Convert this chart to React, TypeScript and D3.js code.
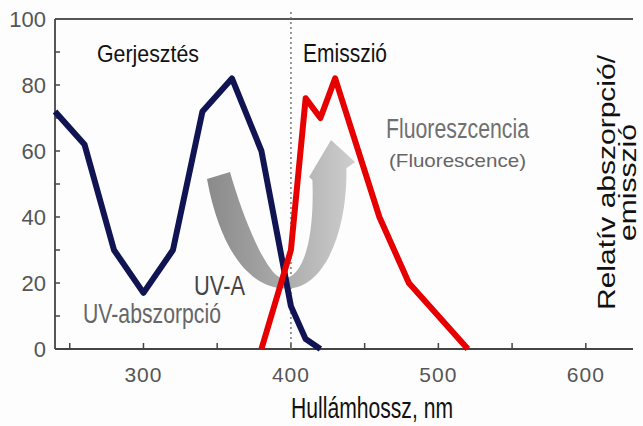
import React from "react";
import * as d3 from "d3";

const absorptionWl = [240, 260, 280, 300, 320, 340, 360, 380, 400, 410, 420];
const absorptionVal = [72, 62, 30, 17, 30, 72, 82, 60, 13, 3, 0];
const emissionWl = [380, 400, 410, 420, 430, 460, 480, 520];
const emissionVal = [0, 30, 76, 70, 82, 40, 20, 0];
const xMajorTicks = [300, 400, 500, 600];
const xMinorTicks = [250, 300, 350, 400, 450, 500, 550, 600];
const yMajorTicks = [0, 20, 40, 60, 80, 100];
const yMinorTicks = [10, 20, 30, 40, 50, 60, 70, 80, 90];
// curved arrow outline in data units [wavelength, value]
const arrowPts: [number, number][] = [
  [343.1, 51.5],
  [351.9, 30.0], [372.2, 18.0], [398.0, 18.3],
  [423.1, 18.5], [438.5, 36.1], [437.6, 54.8],
  [443.5, 56.7], [427.2, 63.3], [412.3, 52.1], [414.6, 51.2],
  [416.0, 34.5], [409.5, 22.4], [396.0, 21.4],
  [385.8, 20.3], [368.9, 37.6], [358.7, 53.6],
];

const W = 643, H = 426;
const L = 55, R = 633, T = 19, B = 349;

export default function App() {
  const x = d3.scaleLinear().domain([240, 632]).range([L, R]);
  const y = d3.scaleLinear().domain([0, 100]).range([B, T]);
  const line = d3.line<[number, number]>().x(d => x(d[0])).y(d => y(d[1]));
  const abs: [number, number][] = absorptionWl.map((w, i) => [w, absorptionVal[i]]);
  const em: [number, number][] = emissionWl.map((w, i) => [w, emissionVal[i]]);
  const P = arrowPts.map(p => `${x(p[0]).toFixed(1)},${y(p[1]).toFixed(1)}`);
  const arrowPath =
    `M${P[0]} C${P[1]} ${P[2]} ${P[3]} C${P[4]} ${P[5]} ${P[6]} L${P[7]} L${P[8]} L${P[9]} L${P[10]} ` +
    `C${P[11]} ${P[12]} ${P[13]} C${P[14]} ${P[15]} ${P[16]} Z`;
  const font = "'Liberation Sans', Arial, sans-serif";
  return (
    <svg width={W} height={H} style={{ position: "absolute", left: 0, top: 0, background: "#fff" }} fontFamily={font}>
      <defs>
        <linearGradient id="ag" gradientUnits="userSpaceOnUse" x1={x(343)} y1={0} x2={x(443)} y2={0}>
          <stop offset="0" stopColor="#8a8a8a" />
          <stop offset="0.5" stopColor="#a9a9a9" />
          <stop offset="1" stopColor="#cecece" />
        </linearGradient>
      </defs>
      <rect x={0} y={0} width={W} height={H} fill="#fdfdfd" />
      {/* frame */}
      <line x1={L} x2={R} y1={T} y2={T} stroke="#555" strokeWidth={2} />
      <line x1={L} x2={L} y1={T} y2={B} stroke="#444" strokeWidth={1.8} />
      <line x1={L} x2={R} y1={B} y2={B} stroke="#444" strokeWidth={1.8} />
      {yMinorTicks.map(t => (
        <line key={"ym" + t} x1={L} x2={L + 5} y1={y(t)} y2={y(t)} stroke="#444" strokeWidth={1.5} />
      ))}
      {xMinorTicks.map(t => (
        <line key={"xm" + t} x1={x(t)} x2={x(t)} y1={B} y2={B - 6} stroke="#444" strokeWidth={1.5} />
      ))}
      {yMajorTicks.map(t => (
        <text key={"yl" + t} x={46} y={y(t) + 8} textAnchor="end" fontSize={22} fill="#555">{t}</text>
      ))}
      {xMajorTicks.map(t => (
        <text key={"xl" + t} x={x(t)} y={382} textAnchor="middle" fontSize={21} fill="#555" letterSpacing={1}>{t}</text>
      ))}
      {/* dotted separator */}
      <line x1={x(400)} x2={x(400)} y1={12} y2={B} stroke="#777" strokeWidth={1.5} strokeDasharray="2,3" />
      {/* arrow */}
      <path d={arrowPath} fill="url(#ag)" />
      {/* curves */}
      <path d={line(abs) || ""} fill="none" stroke="#111452" strokeWidth={6} strokeLinejoin="round" />
      <path d={line(em) || ""} fill="none" stroke="#e60000" strokeWidth={6} strokeLinejoin="round" />
      {/* labels */}
      <text x={97} y={62} fontSize={24.5} fill="#111" textLength={102} lengthAdjust="spacingAndGlyphs">Gerjesztés</text>
      <text x={303} y={62} fontSize={25.5} fill="#111" textLength={84} lengthAdjust="spacingAndGlyphs">Emisszió</text>
      <text x={386} y={138} fontSize={27} fill="#707070" textLength={143} lengthAdjust="spacingAndGlyphs">Fluoreszcencia</text>
      <text x={389} y={167} fontSize={18.5} fill="#666" textLength={137} lengthAdjust="spacingAndGlyphs">(Fluorescence)</text>
      <text x={194} y={295} fontSize={28} fill="#444" textLength={51} lengthAdjust="spacingAndGlyphs">UV-A</text>
      <text x={83} y={323} fontSize={28} fill="#666" textLength={138} lengthAdjust="spacingAndGlyphs">UV-abszorpció</text>
      <text x={291} y={418} fontSize={29} fill="#111" textLength={162} lengthAdjust="spacingAndGlyphs">Hullámhossz, nm</text>
      <text transform="translate(615,182.5) rotate(-90)" textAnchor="middle" fontSize={23.5} fill="#111" textLength={255} lengthAdjust="spacingAndGlyphs">Relatív abszorpció/</text>
      <text transform="translate(636,182.5) rotate(-90)" textAnchor="middle" fontSize={23.5} fill="#111" textLength={117} lengthAdjust="spacingAndGlyphs">emisszió</text>
    </svg>
  );
}
